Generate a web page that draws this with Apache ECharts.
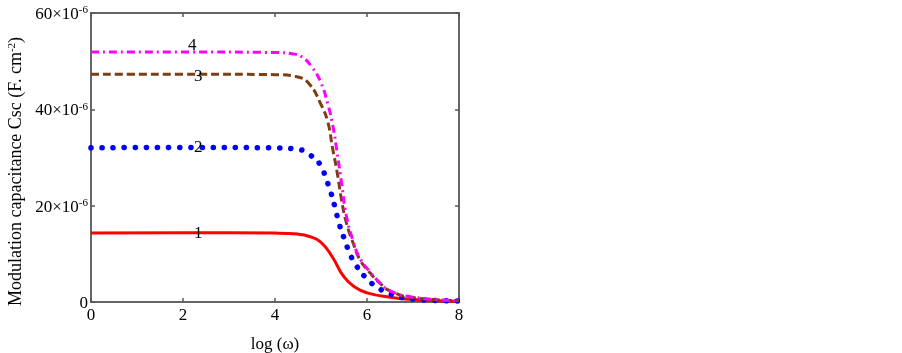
<!DOCTYPE html>
<html>
<head>
<meta charset="utf-8">
<script src="https://cdn.jsdelivr.net/npm/echarts@6/dist/echarts.min.js"></script>
<style>
  html, body { margin: 0; padding: 0; background: #fff; }
  #chart { width: 902px; height: 353px; }
</style>
</head>
<body>
<div id="chart"></div>
<script>
// values, Csc in units of 1e-6 F/cm2
const xTicks = [0, 2, 4, 6, 8];
const yTicks = [0, 20, 40, 60];

const x1 = [0, 2, 4, 4.5, 4.75, 5, 5.25, 5.5, 5.75, 6, 6.5, 7, 8];
const y1 = [14.3, 14.4, 14.3, 14.1, 13.6, 12.4, 9.3, 5.2, 3.0, 1.9, 1.0, 0.5, 0.1];

const x2 = [0, 2, 4, 4.5, 4.75, 5, 5.1, 5.2, 5.3, 5.4, 5.5, 5.6, 5.75, 6, 6.25, 6.5, 7, 8];
const y2 = [32, 32.1, 32, 31.7, 30.6, 28.3, 25.8, 23.2, 19.8, 16.1, 13.3, 10.7, 7.8, 4.8, 2.9, 1.7, 0.6, 0.2];

const x3 = [0, 2, 4, 4.5, 4.75, 5, 5.15, 5.25, 5.35, 5.45, 5.55, 5.7, 5.85, 6.07, 6.28, 6.5, 7, 8];
const y3 = [47.3, 47.3, 47.2, 46.7, 45.2, 41, 37.3, 32, 27, 21, 16.5, 12.2, 8.7, 6, 3.9, 2.3, 0.9, 0.3];

const x4 = [0, 2, 4, 4.4, 4.6, 4.8, 5.0, 5.15, 5.25, 5.35, 5.45, 5.55, 5.7, 5.85, 6.07, 6.28, 6.5, 7, 8];
const y4 = [51.9, 51.9, 51.8, 51.5, 50.8, 48.8, 45.5, 41, 37, 31, 24.5, 18, 12.6, 9, 6.2, 4, 2.3, 1, 0.3];

const curveNames = ['1', '2', '3', '4'];
const labelX = [2.33, 2.33, 2.33, 2.2];
const labelY = [14.3, 32, 46.9, 53.3];

const font = '"Liberation Serif", "Times New Roman", serif';
const chart = echarts.init(document.getElementById('chart'));

const pairs = (xs, ys) => xs.map((x, i) => [x, ys[i]]);

const tagLabel = (i) => ({
  symbol: 'circle',
  symbolSize: 0,
  silent: true,
  label: {
    show: true,
    position: 'inside',
    formatter: curveNames[i],
    color: '#000',
    fontFamily: font,
    fontSize: 17
  },
  data: [{ coord: [labelX[i], labelY[i]] }]
});

const lineSeries = (i, xs, ys, color, type, width, cap) => ({
  name: curveNames[i],
  type: 'line',
  data: pairs(xs, ys),
  smooth: 0.5,
  showSymbol: false,
  lineStyle: { color: color, width: width, type: type, cap: cap || 'butt' },
  markPoint: tagLabel(i),
  z: 3
});

const axisLine = { show: true, onZero: false, lineStyle: { color: '#666', width: 2 } };
const axisTick = { show: true, inside: true, length: 4, lineStyle: { color: '#555', width: 1.5 } };

const option = {
  animation: false,
  backgroundColor: '#fff',
  grid: { left: 91, right: 443, top: 13, bottom: 51, outerBoundsMode: 'none' },
  xAxis: [
    {
      type: 'value',
      min: 0, max: 8, interval: 2,
      name: 'log (ω)',
      nameLocation: 'middle',
      nameGap: 34,
      nameTextStyle: { fontFamily: font, fontSize: 17, color: '#000' },
      axisLine: axisLine,
      axisTick: axisTick,
      splitLine: { show: false },
      axisLabel: { fontFamily: font, fontSize: 17, color: '#000', margin: 5 }
    },
    {
      type: 'value',
      position: 'top',
      min: 0, max: 8, interval: 2,
      axisLine: axisLine,
      axisTick: axisTick,
      splitLine: { show: false },
      axisLabel: { show: false }
    }
  ],
  yAxis: [
    {
      type: 'value',
      min: 0, max: 60, interval: 20,
      name: '{t|Modulation capacitance Csc (F. cm}{s|-2}{t|)}',
      nameLocation: 'middle',
      nameGap: 66,
      nameTextStyle: {
        padding: [0, 28, 0, 0],
        rich: {
          t: { fontFamily: font, fontSize: 18, color: '#000', verticalAlign: 'bottom', lineHeight: 20 },
          s: { fontFamily: font, fontSize: 11, color: '#000', verticalAlign: 'bottom', lineHeight: 20, padding: [0, 0, 7, 0] }
        }
      },
      axisLine: axisLine,
      axisTick: axisTick,
      splitLine: { show: false },
      axisLabel: {
        margin: 3,
        formatter: (v) => v === 0 ? '{a|0}' : '{a|' + v + '×10}{b|-6}',
        rich: {
          a: { fontFamily: font, fontSize: 17, color: '#000', verticalAlign: 'bottom', lineHeight: 20 },
          b: { fontFamily: font, fontSize: 11, color: '#000', verticalAlign: 'bottom', lineHeight: 20, padding: [0, 0, 7, 0] }
        }
      }
    },
    {
      type: 'value',
      position: 'right',
      min: 0, max: 60, interval: 20,
      axisLine: axisLine,
      axisTick: axisTick,
      splitLine: { show: false },
      axisLabel: { show: false }
    }
  ],
  series: [
    lineSeries(0, x1, y1, '#ff0000', 'solid', 3),
    lineSeries(1, x2, y2, '#0000ff', [0.1, 11], 5.5, 'round'),
    lineSeries(2, x3, y3, '#7b3f12', [8, 4], 3),
    lineSeries(3, x4, y4, '#ff00ff', [8, 4, 2, 4], 3)
  ]
};

chart.setOption(option);
</script>
</body>
</html>
